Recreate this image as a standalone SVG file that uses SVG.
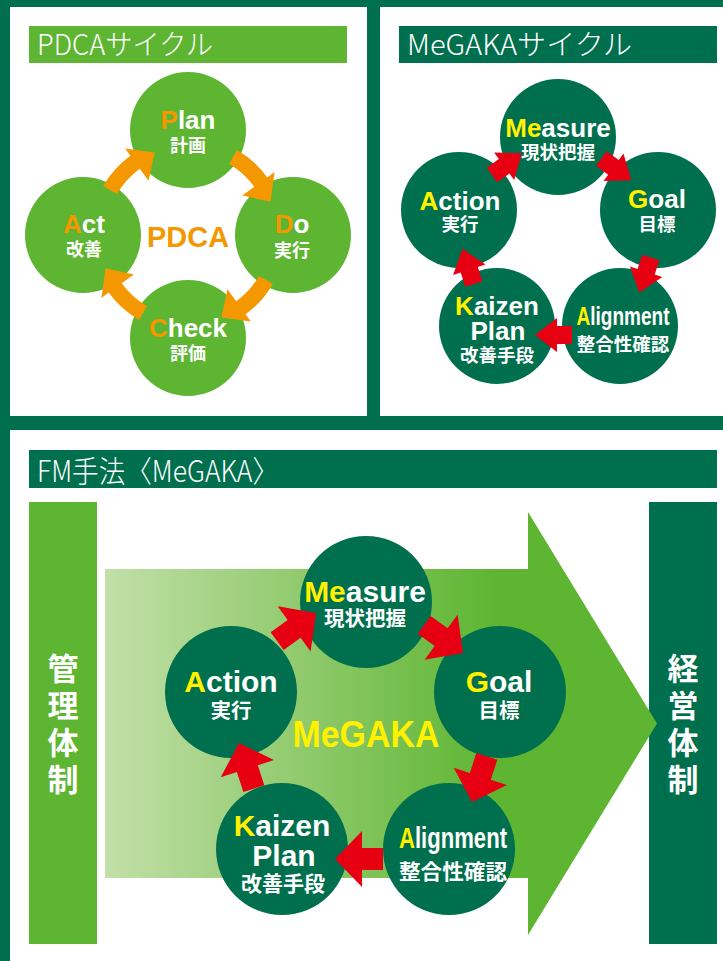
<svg xmlns="http://www.w3.org/2000/svg" xmlns:xlink="http://www.w3.org/1999/xlink" width="723" height="961" viewBox="0 0 723 961">
<style>
.t{font-family:"Liberation Sans","DejaVu Sans",sans-serif;font-weight:bold;text-anchor:middle}
.j{font-family:"Noto Sans CJK JP",sans-serif;font-weight:bold;text-anchor:middle;fill:#fff}
.h{font-family:"Noto Sans CJK JP",sans-serif;font-weight:300;fill:#fff}
.v{font-family:"Noto Sans CJK JP",sans-serif;font-weight:bold;text-anchor:middle;fill:#fff;font-size:31px}
.w{fill:#fff}.o{fill:#F39800}.y{fill:#FFF100}
.lg{fill:#5DB531}.dg{fill:#006F4E}.red{fill:#E60012}.org{fill:#F39800}
</style>
<defs>
<linearGradient id="grad" gradientUnits="userSpaceOnUse" x1="105" y1="0" x2="500" y2="0">
<stop offset="0" stop-color="#C2DFA8"/>
<stop offset="1" stop-color="#5DB531"/>
</linearGradient>
<path id="oa" d="M237,150.1 A98,98 0 0 1 267.3,177.4 L274.6,172.1 L270.5,201.7 L242.2,195.6 L254.3,186.8 A82,82 0 0 0 229,164 Z"/>
<path id="ra1" d="M0,0 L-22,-17 L-22,-9 L-37,-9 L-37,9 L-22,9 L-22,17 Z"/>
<path id="ra2" d="M0,0 L-27,-28 L-27,-11 L-48,-11 L-48,11 L-27,11 L-27,28 Z"/>
</defs>

<rect x="0" y="0" width="723" height="961" class="dg"/>
<rect x="10" y="7" width="357" height="409" fill="#fff"/>
<rect x="380" y="7" width="343" height="409" fill="#fff"/>
<rect x="10" y="430" width="713" height="531" fill="#fff"/>

<!-- PDCA panel -->
<g id="pdca-title">
<rect x="29" y="26" width="318" height="37" class="lg"/>
<text class="h" x="37" y="55" font-size="28" textLength="176" lengthAdjust="spacingAndGlyphs">PDCAサイクル</text>
</g>
<g id="pdca-plan">
<circle cx="188" cy="130" r="58" class="lg"/>
<text class="t" x="188" y="129" font-size="26"><tspan class="o">P</tspan><tspan class="w">lan</tspan></text>
<text class="j" x="188" y="152" font-size="18">計画</text>
</g>
<g id="pdca-do">
<circle cx="293" cy="235" r="58" class="lg"/>
<text class="t" x="292" y="233" font-size="26"><tspan class="o">D</tspan><tspan class="w">o</tspan></text>
<text class="j" x="292" y="257" font-size="18">実行</text>
</g>
<g id="pdca-check">
<circle cx="188" cy="338" r="58" class="lg"/>
<text class="t" x="188" y="337" font-size="26"><tspan class="o">C</tspan><tspan class="w">heck</tspan></text>
<text class="j" x="188" y="360" font-size="18">評価</text>
</g>
<g id="pdca-act">
<circle cx="83" cy="235" r="58" class="lg"/>
<text class="t" x="84" y="233" font-size="26"><tspan class="o">A</tspan><tspan class="w">ct</tspan></text>
<text class="j" x="84" y="256" font-size="18">改善</text>
</g>
<g id="pdca-center">
<text class="t o" x="188" y="247" font-size="29">PDCA</text>
</g>
<g id="pdca-connectors" class="org">
<use xlink:href="#oa"/>
<use xlink:href="#oa" transform="rotate(90 188 235)"/>
<use xlink:href="#oa" transform="rotate(180 188 235)"/>
<use xlink:href="#oa" transform="rotate(270 188 235)"/>
</g>

<!-- MeGAKA cycle panel -->
<g id="megaka-title">
<rect x="399" y="26" width="318" height="37" class="dg"/>
<text class="h" x="407" y="55" font-size="28" textLength="225" lengthAdjust="spacingAndGlyphs">MeGAKAサイクル</text>
</g>
<g id="m1-measure">
<circle cx="558" cy="137" r="58" class="dg"/>
<text class="t" x="558" y="137" font-size="26"><tspan class="y">Me</tspan><tspan class="w">asure</tspan></text>
<text class="j" x="558" y="159" font-size="18.5">現状把握</text>
</g>
<g id="m1-goal">
<circle cx="658" cy="210" r="58" class="dg"/>
<text class="t" x="657" y="208" font-size="26"><tspan class="y">G</tspan><tspan class="w">oal</tspan></text>
<text class="j" x="657" y="231" font-size="18.5">目標</text>
</g>
<g id="m1-alignment">
<circle cx="620" cy="326" r="58" class="dg"/>
<text class="t" x="623" y="325" font-size="26" textLength="93" lengthAdjust="spacingAndGlyphs"><tspan class="y">A</tspan><tspan class="w">lignment</tspan></text>
<text class="j" x="623" y="351" font-size="18.5">整合性確認</text>
</g>
<g id="m1-kaizen">
<circle cx="497" cy="326" r="58" class="dg"/>
<text class="t" x="497" y="315" font-size="26"><tspan class="y">K</tspan><tspan class="w">aizen</tspan></text>
<text class="t w" x="498" y="340" font-size="26">Plan</text>
<text class="j" x="497" y="362" font-size="18.5">改善手段</text>
</g>
<g id="m1-action">
<circle cx="459" cy="210" r="58" class="dg"/>
<text class="t" x="460" y="210" font-size="26"><tspan class="y">A</tspan><tspan class="w">ction</tspan></text>
<text class="j" x="460" y="231" font-size="18.5">実行</text>
</g>
<g id="m1-connectors" class="red" transform="translate(558 242)">
<use xlink:href="#ra1" transform="translate(-23 93) rotate(180)"/>
<use xlink:href="#ra1" transform="rotate(72) translate(-23 93) rotate(180)"/>
<use xlink:href="#ra1" transform="rotate(144) translate(-23 93) rotate(180)"/>
<use xlink:href="#ra1" transform="rotate(216) translate(-23 93) rotate(180)"/>
<use xlink:href="#ra1" transform="rotate(288) translate(-23 93) rotate(180)"/>
</g>

<!-- FM panel -->
<g id="fm-title">
<rect x="29" y="450" width="688" height="38" class="dg"/>
<text class="h" x="37" y="482" font-size="30" textLength="242" lengthAdjust="spacingAndGlyphs">FM手法〈MeGAKA〉</text>
</g>
<g id="bar-left">
<rect x="29" y="502" width="68" height="442" class="lg"/>
<text class="v" x="63" y="680">管</text>
<text class="v" x="63" y="717">理</text>
<text class="v" x="63" y="754">体</text>
<text class="v" x="63" y="791">制</text>
</g>
<g id="bar-right">
<rect x="649" y="502" width="68" height="442" class="dg"/>
<text class="v" x="683" y="680">経</text>
<text class="v" x="683" y="717">営</text>
<text class="v" x="683" y="754">体</text>
<text class="v" x="683" y="791">制</text>
</g>
<g id="big-arrow">
<path d="M105,569 H528 V512 L657,723.5 L528,935 V878 H105 Z" fill="url(#grad)"/>
<text class="t y" x="366" y="747" font-size="36" textLength="147" lengthAdjust="spacingAndGlyphs">MeGAKA</text>
</g>
<g id="m2-measure">
<circle cx="366" cy="602" r="66" class="dg"/>
<text class="t" x="365" y="602" font-size="30"><tspan class="y">Me</tspan><tspan class="w">asure</tspan></text>
<text class="j" x="365" y="626" font-size="20.5">現状把握</text>
</g>
<g id="m2-goal">
<circle cx="500" cy="692" r="66" class="dg"/>
<text class="t" x="499" y="692" font-size="30"><tspan class="y">G</tspan><tspan class="w">oal</tspan></text>
<text class="j" x="499" y="718" font-size="20.5">目標</text>
</g>
<g id="m2-alignment">
<circle cx="449" cy="849" r="66" class="dg"/>
<text class="t" x="453" y="848" font-size="30" textLength="108" lengthAdjust="spacingAndGlyphs"><tspan class="y">A</tspan><tspan class="w">lignment</tspan></text>
<text class="j" x="453" y="879" font-size="21" textLength="108" lengthAdjust="spacingAndGlyphs">整合性確認</text>
</g>
<g id="m2-kaizen">
<circle cx="282" cy="849" r="66" class="dg"/>
<text class="t" x="282" y="836" font-size="30"><tspan class="y">K</tspan><tspan class="w">aizen</tspan></text>
<text class="t w" x="284" y="866" font-size="30">Plan</text>
<text class="j" x="283" y="891" font-size="21">改善手段</text>
</g>
<g id="m2-action">
<circle cx="231" cy="692" r="66" class="dg"/>
<text class="t" x="231" y="692" font-size="30"><tspan class="y">A</tspan><tspan class="w">ction</tspan></text>
<text class="j" x="231" y="718" font-size="20.5">実行</text>
</g>
<g id="m2-connectors" class="red">
<use xlink:href="#ra2" transform="translate(316 613) rotate(-36)"/>
<use xlink:href="#ra2" transform="translate(463 653) rotate(36)"/>
<use xlink:href="#ra2" transform="translate(472 802) rotate(108)"/>
<use xlink:href="#ra2" transform="translate(335 859) rotate(180)"/>
<use xlink:href="#ra2" transform="translate(239 743) rotate(252)"/>
</g>
</svg>
